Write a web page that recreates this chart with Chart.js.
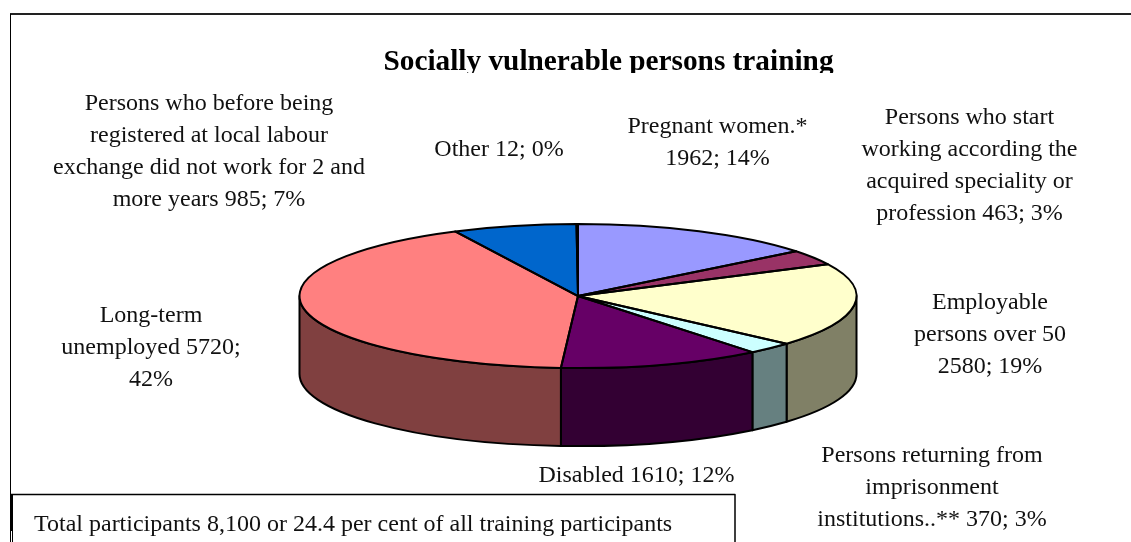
<!DOCTYPE html>
<html>
<head>
<meta charset="utf-8">
<style>html,body{margin:0;padding:0;background:#fff;overflow:hidden}canvas{display:block}</style>
<script src="https://cdn.jsdelivr.net/npm/chart.js@4"></script>
</head>
<body>
<canvas id="c" width="1131" height="542"></canvas>
<script>
const titleText = 'Socially vulnerable persons training';
const noteText = 'Total participants 8,100 or 24.4 per cent of all training participants';
const categories = ['Pregnant women.*','Persons who start working according the acquired speciality or profession','Employable persons over 50','Persons returning from imprisonment institutions..**','Disabled','Long-term unemployed','Persons who before being registered at local labour exchange did not work for 2 and more years','Other'];
const values = [1962,463,2580,370,1610,5720,985,12];
const topColors = ['#9999FF','#993366','#FFFFCC','#CCFFFF','#660066','#FF8080','#0066CC','#CCCCFF'];
const sideColors = ['#4D4D80','#4D1A33','#808066','#668080','#330033','#804040','#003366','#666680'];
const labelLines = [
  ['Pregnant women.*','1962; 14%'],
  ['Persons who start','working according the','acquired speciality or','profession 463; 3%'],
  ['Employable','persons over 50','2580; 19%'],
  ['Persons returning from','imprisonment','institutions..** 370; 3%'],
  ['Disabled 1610; 12%'],
  ['Long-term','unemployed 5720;','42%'],
  ['Persons who before being','registered at local labour','exchange did not work for 2 and','more years 985; 7%'],
  ['Other 12; 0%']
];
const labelCentres = [[717.5,127],[969.5,118],[990,303],[932,456],[636.5,476],[151,316],[209,104],[499,150]];
const SERIF = '"Liberation Serif","Times New Roman",serif';
const LINE = 32, RY = 72, DEPTH = 78;

const pie3d = {
  id:'pie3d',
  afterLayout(chart){ chart.titleBlock.left += 30.5; chart.titleBlock.right += 30.5; },
  beforeDatasetsDraw(chart){
    const ctx = chart.ctx, arcs = chart.getDatasetMeta(0).data;
    // mask the lower part of the title, which the source picture cuts off
    ctx.fillStyle = '#fff'; ctx.fillRect(370,73,480,14);
    const a0 = arcs[0], rx = a0.outerRadius, cx = a0.x, cy = a0.y;
    ctx.lineWidth = 2; ctx.strokeStyle = '#000'; ctx.lineJoin='round';
    arcs.forEach((a,i)=>{
      const rng = [[a.startAngle,a.endAngle],[a.startAngle-2*Math.PI,a.endAngle-2*Math.PI]];
      rng.forEach(([s0,e0])=>{
        const s = Math.max(s0,0), e = Math.min(e0,Math.PI);
        if (e <= s) return;
        ctx.beginPath();
        ctx.ellipse(cx,cy,rx,RY,0,s,e);
        ctx.ellipse(cx,cy+DEPTH,rx,RY,0,e,s,true);
        ctx.closePath();
        ctx.fillStyle = sideColors[i]; ctx.fill(); ctx.stroke();
      });
    });
    ctx.save();
    ctx.translate(0,cy); ctx.scale(1,RY/rx); ctx.translate(0,-cy);
  },
  afterDatasetsDraw(chart){
    const ctx = chart.ctx, arcs = chart.getDatasetMeta(0).data;
    ctx.restore();
    const a0 = arcs[0], rx = a0.outerRadius, cx = a0.x, cy = a0.y;
    ctx.lineWidth = 2; ctx.strokeStyle = '#000'; ctx.lineJoin='round';
    arcs.forEach(a=>{
      ctx.beginPath();
      ctx.moveTo(cx,cy);
      ctx.ellipse(cx,cy,rx,RY,0,a.startAngle,a.endAngle);
      ctx.closePath(); ctx.stroke();
    });
  },
  afterDraw(chart){
    const ctx = chart.ctx;
    ctx.save();
    ctx.fillStyle = '#111'; ctx.font = '24px '+SERIF; ctx.textAlign='center'; ctx.textBaseline='middle';
    labelLines.forEach((lines,i)=>{
      lines.forEach((t,j)=>ctx.fillText(t,labelCentres[i][0],labelCentres[i][1]+j*LINE));
    });
    ctx.strokeStyle = '#222';
    ctx.lineWidth = 2; ctx.beginPath(); ctx.moveTo(10,14); ctx.lineTo(1131,14); ctx.stroke();
    ctx.lineWidth = 1; ctx.strokeStyle='#000'; ctx.beginPath(); ctx.moveTo(10.5,14); ctx.lineTo(10.5,542); ctx.stroke();
    ctx.fillStyle='#fff'; ctx.fillRect(11,494,724,48);
    ctx.lineWidth = 1.5; ctx.beginPath(); ctx.moveTo(10,494.5); ctx.lineTo(735,494.5); ctx.lineTo(735,542); ctx.stroke();
    ctx.lineWidth = 2; ctx.beginPath(); ctx.moveTo(11,494); ctx.lineTo(11,531); ctx.stroke();
    ctx.lineWidth = 1; ctx.beginPath(); ctx.moveTo(12.5,494); ctx.lineTo(12.5,542); ctx.stroke();
    ctx.fillStyle='#111'; ctx.textAlign='left'; ctx.fillText(noteText,34,525);
    ctx.restore();
  }
};

new Chart(document.getElementById('c'),{
  type:'pie',
  data:{labels:categories,datasets:[{data:values,backgroundColor:topColors,borderWidth:0,radius:278.5,clip:false}]},
  options:{
    responsive:false,animation:false,events:[],
    layout:{padding:{left:25,right:0,top:0,bottom:31}},
    plugins:{
      legend:{display:false},tooltip:{enabled:false},
      title:{display:true,text:titleText,color:'#000',align:'center',
        font:{family:SERIF,size:29.3,weight:'bold',lineHeight:1.2},padding:{top:45,bottom:0.9}}
    }
  },
  plugins:[pie3d]
});
</script>
</body>
</html>
